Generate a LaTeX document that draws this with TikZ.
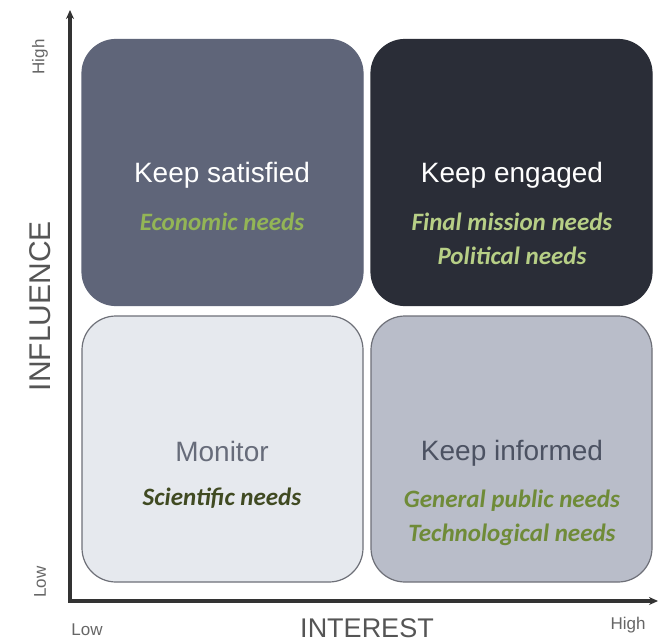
\documentclass[tikz,border=0pt]{standalone}
\usepackage{fontspec}
\setmainfont{Liberation Sans}
\newfontfamily\needsfont{Carlito}
\usetikzlibrary{arrows.meta}

\definecolor{satFill}{HTML}{5F6579}
\definecolor{engFill}{HTML}{2A2D37}
\definecolor{monFill}{HTML}{E6E9EE}
\definecolor{infFill}{HTML}{B9BDC9}
\definecolor{quadEdge}{HTML}{6E7078}
\definecolor{headSlate}{HTML}{4C5262}
\definecolor{needLight}{HTML}{93B556}
\definecolor{needPale}{HTML}{B7CF86}
\definecolor{needDark}{HTML}{404A22}
\definecolor{needMid}{HTML}{6F8B38}
\definecolor{axisGray}{HTML}{333333}
\definecolor{labelGray}{HTML}{555555}

\begin{document}
\begin{tikzpicture}[
  x=1pt, y=-1pt,
  quad/.style={rounded corners=34pt, minimum width=281pt, minimum height=266pt, line width=1.2pt, inner sep=0pt},
  head/.style={anchor=base, font=\fontsize{28}{32}\selectfont},
  need/.style={anchor=base, font=\needsfont\bfseries\itshape\fontsize{25}{30}\selectfont},
  tick/.style={font=\fontsize{17}{20}\selectfont, text=black!60},
  axis/.style={line width=3.5pt, axisGray, -{Stealth[length=9pt, width=8pt]}}
]
\useasboundingbox[fill=white] (0,0) rectangle (658,642);

% --- quadrants ---
\node[quad, fill=satFill, draw=satFill] (sat) at (222.5,172.5) {};
\node[quad, fill=engFill, draw=engFill] (eng) at (511.5,172.5) {};
\node[quad, fill=monFill, draw=quadEdge] (mon) at (222.5,449) {};
\node[quad, fill=infFill, draw=quadEdge] (inf) at (511.5,449) {};

% --- texts ---
\node[head, text=white] (satT) at (222,182) {Keep satisfied};
\node[need, text=needLight] (satN) at (222,230) {Economic needs};

\node[head, text=white] (engT) at (512,182) {Keep engaged};
\node[need, text=needPale] (engN1) at (512,230) {Final mission needs};
\node[need, text=needPale] (engN2) at (512,264) {Political needs};

\node[head, text=headSlate!85] (monT) at (222,461) {Monitor};
\node[need, text=needDark] (monN) at (222,505) {Scientific needs};

\node[head, text=headSlate] (infT) at (512,460) {Keep informed};
\node[need, text=needMid] (infN1) at (512,507) {General public needs};
\node[need, text=needMid] (infN2) at (512,541) {Technological needs};

% --- axes ---
\coordinate (origin) at (70,601);
\coordinate (ytop) at (70,10);
\coordinate (xend) at (658,601);
\draw[axis] (origin) -- (ytop);
\draw[axis] ([xshift=-1.75pt]origin) -- (xend);

\node[rotate=90, font=\fontsize{30}{36}\selectfont, text=labelGray] (infl) at (40,306) {INFLUENCE};
\node[font=\fontsize{27}{32}\selectfont, text=labelGray] (intr) at (367,628) {INTEREST};
\node[tick, rotate=90] (yHigh) at (40,57) {High};
\node[tick, rotate=90] (yLow) at (40,582) {Low};
\node[tick] (xLow) at (87,630) {Low};
\node[tick] (xHigh) at (628,625) {High};
\end{tikzpicture}
\end{document}
